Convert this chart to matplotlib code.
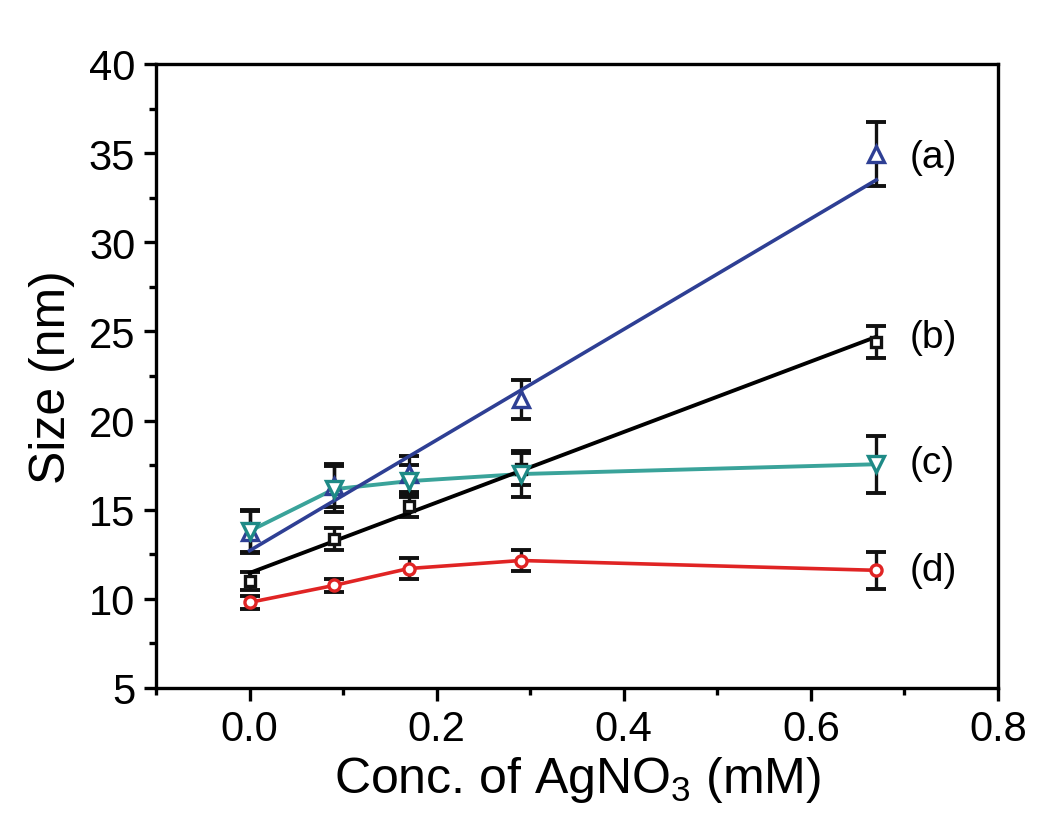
import numpy as np
import matplotlib
matplotlib.use('Agg')
import matplotlib.pyplot as plt
from matplotlib.ticker import MultipleLocator

plt.rcParams['font.family'] = ['Liberation Sans', 'DejaVu Sans']
plt.rcParams['mathtext.fontset'] = 'custom'
plt.rcParams['mathtext.rm'] = 'Liberation Sans'
plt.rcParams['mathtext.default'] = 'regular'

# koncentrace AgNO3 (mM)
conc = [0.0, 0.09, 0.17, 0.29, 0.67]

# (a) trojuhelniky nahoru
size_a = [13.75, 16.35, 17.0, 21.2, 34.95]
err_a = [1.2, 1.2, 1.0, 1.1, 1.8]
fit_a = [12.7, 33.5]

# (b) ctverce
size_b = [11.0, 13.35, 15.2, 17.3, 24.4]
err_b = [0.5, 0.6, 0.6, 0.9, 0.9]
fit_b = [11.45, 24.7]

# (c) trojuhelniky dolu
size_c = [13.8, 16.15, 16.6, 17.0, 17.55]
err_c = [1.2, 1.3, 0.9, 1.3, 1.6]

# (d) kolecka
size_d = [9.8, 10.75, 11.7, 12.15, 11.6]
err_d = [0.35, 0.35, 0.6, 0.6, 1.05]

labels = ['(a)', '(b)', '(c)', '(d)']
label_y = [34.8, 24.7, 17.6, 11.6]

blue = '#2E3F94'
teal = '#3AA39A'
red = '#E02424'

fig = plt.figure(figsize=(10.5, 8.28), dpi=100)
ax = fig.add_axes([0.1486, 0.1679, 0.8019, 0.7536])

fit_x = [conc[0], conc[-1]]

# chybove useky
for y, e in [(size_a, err_a), (size_b, err_b), (size_c, err_c), (size_d, err_d)]:
    ax.errorbar(conc, y, yerr=e, fmt='none', ecolor='#111111', elinewidth=2.4,
                capsize=7, capthick=2.8, zorder=2)

# linie
ax.plot(conc, size_c, color=teal, lw=2.8, zorder=3)
ax.plot(conc, size_d, color=red, lw=2.6, zorder=3)
ax.plot(fit_x, fit_b, color='black', lw=2.8, zorder=3)
ax.plot(fit_x, fit_a, color=blue, lw=2.6, zorder=4)

# body
ax.plot(conc, size_a, ls='none', marker='^', ms=12, mfc='white', mec=blue, mew=2.4, zorder=5)
ax.plot(conc, size_b, ls='none', marker='s', ms=7, mfc='white', mec='#111111', mew=2.4, zorder=5)
ax.plot(conc, size_c, ls='none', marker='v', ms=12, mfc='white', mec='#1E8A86', mew=2.4, zorder=5)
ax.plot(conc, size_d, ls='none', marker='o', ms=8, mfc='white', mec=red, mew=2.4, zorder=5)

for lab, yy in zip(labels, label_y):
    ax.text(0.706, yy, lab, fontsize=28, va='center', ha='left')

ax.set_xlim(-0.1, 0.8)
ax.set_ylim(5, 40)
ax.xaxis.set_major_locator(MultipleLocator(0.2))
ax.xaxis.set_minor_locator(MultipleLocator(0.1))
ax.yaxis.set_major_locator(MultipleLocator(5))
ax.yaxis.set_minor_locator(MultipleLocator(2.5))
ax.xaxis.set_major_formatter(matplotlib.ticker.FormatStrFormatter('%.1f'))
ax.tick_params(which='major', direction='out', length=9, width=2.4, labelsize=30, pad=6)
ax.tick_params(which='minor', direction='out', length=5, width=2.4)
for s in ax.spines.values():
    s.set_linewidth(2.4)

ax.set_xlabel(r'Conc. of AgNO$_3$ (mM)', fontsize=36, labelpad=4)
ax.set_ylabel('Size (nm)', fontsize=36, labelpad=10)

fig.savefig('out.png', dpi=100)
